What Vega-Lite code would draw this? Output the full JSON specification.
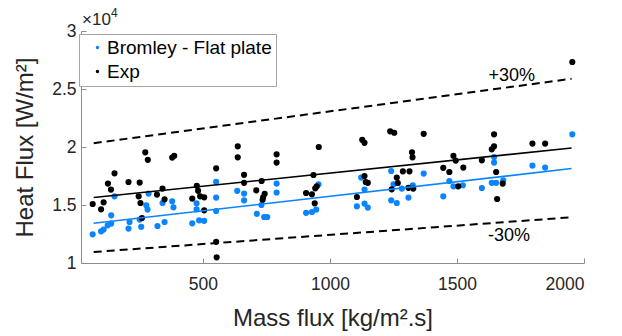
{
  "$schema": "https://vega.github.io/schema/vega-lite/v6.json",
  "width": 503,
  "height": 232,
  "autosize": {"type": "none"},
  "padding": {"left": 81, "top": 31, "right": 38, "bottom": 73},
  "background": "white",
  "config": {
    "font": "Liberation Sans",
    "view": {"stroke": null},
    "axis": {
      "grid": false,
      "domainColor": "#8c8c8c",
      "tickColor": "#8c8c8c",
      "labelColor": "#262626",
      "titleColor": "#262626",
      "labelFont": "Liberation Sans",
      "titleFont": "Liberation Sans",
      "labelFontSize": 17.5,
      "titleFontSize": 24,
      "titleFontWeight": "normal"
    }
  },
  "datasets": {
    "points": [
      {"mass_flux": 66, "heat_flux": 12474, "series": "Bromley - Flat plate"},
      {"mass_flux": 99, "heat_flux": 12733, "series": "Bromley - Flat plate"},
      {"mass_flux": 109, "heat_flux": 12879, "series": "Bromley - Flat plate"},
      {"mass_flux": 125, "heat_flux": 13250, "series": "Bromley - Flat plate"},
      {"mass_flux": 139, "heat_flux": 13397, "series": "Bromley - Flat plate"},
      {"mass_flux": 139, "heat_flux": 14112, "series": "Bromley - Flat plate"},
      {"mass_flux": 152, "heat_flux": 15750, "series": "Bromley - Flat plate"},
      {"mass_flux": 207, "heat_flux": 12966, "series": "Bromley - Flat plate"},
      {"mass_flux": 211, "heat_flux": 13535, "series": "Bromley - Flat plate"},
      {"mass_flux": 251, "heat_flux": 13742, "series": "Bromley - Flat plate"},
      {"mass_flux": 257, "heat_flux": 13121, "series": "Bromley - Flat plate"},
      {"mass_flux": 277, "heat_flux": 14974, "series": "Bromley - Flat plate"},
      {"mass_flux": 282, "heat_flux": 14604, "series": "Bromley - Flat plate"},
      {"mass_flux": 286, "heat_flux": 15983, "series": "Bromley - Flat plate"},
      {"mass_flux": 321, "heat_flux": 13190, "series": "Bromley - Flat plate"},
      {"mass_flux": 341, "heat_flux": 15173, "series": "Bromley - Flat plate"},
      {"mass_flux": 349, "heat_flux": 13535, "series": "Bromley - Flat plate"},
      {"mass_flux": 379, "heat_flux": 15319, "series": "Bromley - Flat plate"},
      {"mass_flux": 384, "heat_flux": 14802, "series": "Bromley - Flat plate"},
      {"mass_flux": 458, "heat_flux": 13423, "series": "Bromley - Flat plate"},
      {"mass_flux": 475, "heat_flux": 15147, "series": "Bromley - Flat plate"},
      {"mass_flux": 475, "heat_flux": 14629, "series": "Bromley - Flat plate"},
      {"mass_flux": 485, "heat_flux": 13681, "series": "Bromley - Flat plate"},
      {"mass_flux": 505, "heat_flux": 13638, "series": "Bromley - Flat plate"},
      {"mass_flux": 552, "heat_flux": 17000, "series": "Bromley - Flat plate"},
      {"mass_flux": 552, "heat_flux": 15638, "series": "Bromley - Flat plate"},
      {"mass_flux": 552, "heat_flux": 14483, "series": "Bromley - Flat plate"},
      {"mass_flux": 635, "heat_flux": 16224, "series": "Bromley - Flat plate"},
      {"mass_flux": 662, "heat_flux": 15983, "series": "Bromley - Flat plate"},
      {"mass_flux": 662, "heat_flux": 15405, "series": "Bromley - Flat plate"},
      {"mass_flux": 712, "heat_flux": 14242, "series": "Bromley - Flat plate"},
      {"mass_flux": 730, "heat_flux": 15000, "series": "Bromley - Flat plate"},
      {"mass_flux": 741, "heat_flux": 13966, "series": "Bromley - Flat plate"},
      {"mass_flux": 753, "heat_flux": 13966, "series": "Bromley - Flat plate"},
      {"mass_flux": 790, "heat_flux": 16845, "series": "Bromley - Flat plate"},
      {"mass_flux": 790, "heat_flux": 16078, "series": "Bromley - Flat plate"},
      {"mass_flux": 906, "heat_flux": 14328, "series": "Bromley - Flat plate"},
      {"mass_flux": 929, "heat_flux": 14397, "series": "Bromley - Flat plate"},
      {"mass_flux": 946, "heat_flux": 14604, "series": "Bromley - Flat plate"},
      {"mass_flux": 955, "heat_flux": 16785, "series": "Bromley - Flat plate"},
      {"mass_flux": 1123, "heat_flux": 17362, "series": "Bromley - Flat plate"},
      {"mass_flux": 1136, "heat_flux": 16328, "series": "Bromley - Flat plate"},
      {"mass_flux": 1106, "heat_flux": 14888, "series": "Bromley - Flat plate"},
      {"mass_flux": 1136, "heat_flux": 15121, "series": "Bromley - Flat plate"},
      {"mass_flux": 1149, "heat_flux": 14776, "series": "Bromley - Flat plate"},
      {"mass_flux": 1241, "heat_flux": 17931, "series": "Bromley - Flat plate"},
      {"mass_flux": 1250, "heat_flux": 16785, "series": "Bromley - Flat plate"},
      {"mass_flux": 1283, "heat_flux": 16414, "series": "Bromley - Flat plate"},
      {"mass_flux": 1326, "heat_flux": 16699, "series": "Bromley - Flat plate"},
      {"mass_flux": 1241, "heat_flux": 15405, "series": "Bromley - Flat plate"},
      {"mass_flux": 1263, "heat_flux": 15173, "series": "Bromley - Flat plate"},
      {"mass_flux": 1309, "heat_flux": 15638, "series": "Bromley - Flat plate"},
      {"mass_flux": 1369, "heat_flux": 17707, "series": "Bromley - Flat plate"},
      {"mass_flux": 1470, "heat_flux": 17069, "series": "Bromley - Flat plate"},
      {"mass_flux": 1486, "heat_flux": 16612, "series": "Bromley - Flat plate"},
      {"mass_flux": 1523, "heat_flux": 16699, "series": "Bromley - Flat plate"},
      {"mass_flux": 1446, "heat_flux": 15750, "series": "Bromley - Flat plate"},
      {"mass_flux": 1598, "heat_flux": 16466, "series": "Bromley - Flat plate"},
      {"mass_flux": 1637, "heat_flux": 16914, "series": "Bromley - Flat plate"},
      {"mass_flux": 1654, "heat_flux": 16914, "series": "Bromley - Flat plate"},
      {"mass_flux": 1646, "heat_flux": 19138, "series": "Bromley - Flat plate"},
      {"mass_flux": 1646, "heat_flux": 18656, "series": "Bromley - Flat plate"},
      {"mass_flux": 1682, "heat_flux": 17130, "series": "Bromley - Flat plate"},
      {"mass_flux": 1954, "heat_flux": 21095, "series": "Bromley - Flat plate"},
      {"mass_flux": 1797, "heat_flux": 18397, "series": "Bromley - Flat plate"},
      {"mass_flux": 1847, "heat_flux": 18224, "series": "Bromley - Flat plate"},
      {"mass_flux": 66, "heat_flux": 15086, "series": "Exp"},
      {"mass_flux": 99, "heat_flux": 14629, "series": "Exp"},
      {"mass_flux": 109, "heat_flux": 15233, "series": "Exp"},
      {"mass_flux": 126, "heat_flux": 16845, "series": "Exp"},
      {"mass_flux": 138, "heat_flux": 16328, "series": "Exp"},
      {"mass_flux": 152, "heat_flux": 17733, "series": "Exp"},
      {"mass_flux": 207, "heat_flux": 16983, "series": "Exp"},
      {"mass_flux": 251, "heat_flux": 16931, "series": "Exp"},
      {"mass_flux": 247, "heat_flux": 15750, "series": "Exp"},
      {"mass_flux": 254, "heat_flux": 15173, "series": "Exp"},
      {"mass_flux": 260, "heat_flux": 13879, "series": "Exp"},
      {"mass_flux": 273, "heat_flux": 19543, "series": "Exp"},
      {"mass_flux": 283, "heat_flux": 18897, "series": "Exp"},
      {"mass_flux": 319, "heat_flux": 15897, "series": "Exp"},
      {"mass_flux": 341, "heat_flux": 16414, "series": "Exp"},
      {"mass_flux": 349, "heat_flux": 15492, "series": "Exp"},
      {"mass_flux": 379, "heat_flux": 19087, "series": "Exp"},
      {"mass_flux": 387, "heat_flux": 19242, "series": "Exp"},
      {"mass_flux": 476, "heat_flux": 16655, "series": "Exp"},
      {"mass_flux": 458, "heat_flux": 15552, "series": "Exp"},
      {"mass_flux": 481, "heat_flux": 16224, "series": "Exp"},
      {"mass_flux": 489, "heat_flux": 15750, "series": "Exp"},
      {"mass_flux": 505, "heat_flux": 15664, "series": "Exp"},
      {"mass_flux": 505, "heat_flux": 14543, "series": "Exp"},
      {"mass_flux": 552, "heat_flux": 18164, "series": "Exp"},
      {"mass_flux": 552, "heat_flux": 11828, "series": "Exp"},
      {"mass_flux": 554, "heat_flux": 10491, "series": "Exp"},
      {"mass_flux": 637, "heat_flux": 20061, "series": "Exp"},
      {"mass_flux": 637, "heat_flux": 19112, "series": "Exp"},
      {"mass_flux": 662, "heat_flux": 17604, "series": "Exp"},
      {"mass_flux": 662, "heat_flux": 16914, "series": "Exp"},
      {"mass_flux": 710, "heat_flux": 16267, "series": "Exp"},
      {"mass_flux": 731, "heat_flux": 17069, "series": "Exp"},
      {"mass_flux": 743, "heat_flux": 15966, "series": "Exp"},
      {"mass_flux": 737, "heat_flux": 15664, "series": "Exp"},
      {"mass_flux": 735, "heat_flux": 15449, "series": "Exp"},
      {"mass_flux": 790, "heat_flux": 19371, "series": "Exp"},
      {"mass_flux": 790, "heat_flux": 18656, "series": "Exp"},
      {"mass_flux": 906, "heat_flux": 16035, "series": "Exp"},
      {"mass_flux": 929, "heat_flux": 15923, "series": "Exp"},
      {"mass_flux": 935, "heat_flux": 17586, "series": "Exp"},
      {"mass_flux": 942, "heat_flux": 16440, "series": "Exp"},
      {"mass_flux": 948, "heat_flux": 16612, "series": "Exp"},
      {"mass_flux": 940, "heat_flux": 15147, "series": "Exp"},
      {"mass_flux": 956, "heat_flux": 20000, "series": "Exp"},
      {"mass_flux": 1127, "heat_flux": 20621, "series": "Exp"},
      {"mass_flux": 1136, "heat_flux": 20362, "series": "Exp"},
      {"mass_flux": 1237, "heat_flux": 21354, "series": "Exp"},
      {"mass_flux": 1253, "heat_flux": 21225, "series": "Exp"},
      {"mass_flux": 1369, "heat_flux": 21138, "series": "Exp"},
      {"mass_flux": 1323, "heat_flux": 19543, "series": "Exp"},
      {"mass_flux": 1325, "heat_flux": 19112, "series": "Exp"},
      {"mass_flux": 1136, "heat_flux": 17500, "series": "Exp"},
      {"mass_flux": 1141, "heat_flux": 16983, "series": "Exp"},
      {"mass_flux": 1149, "heat_flux": 16914, "series": "Exp"},
      {"mass_flux": 1106, "heat_flux": 15690, "series": "Exp"},
      {"mass_flux": 1263, "heat_flux": 17362, "series": "Exp"},
      {"mass_flux": 1267, "heat_flux": 16897, "series": "Exp"},
      {"mass_flux": 1287, "heat_flux": 17905, "series": "Exp"},
      {"mass_flux": 1313, "heat_flux": 17905, "series": "Exp"},
      {"mass_flux": 1243, "heat_flux": 16354, "series": "Exp"},
      {"mass_flux": 1309, "heat_flux": 16483, "series": "Exp"},
      {"mass_flux": 1328, "heat_flux": 16414, "series": "Exp"},
      {"mass_flux": 1646, "heat_flux": 21095, "series": "Exp"},
      {"mass_flux": 1646, "heat_flux": 20061, "series": "Exp"},
      {"mass_flux": 1637, "heat_flux": 19802, "series": "Exp"},
      {"mass_flux": 1486, "heat_flux": 19242, "series": "Exp"},
      {"mass_flux": 1495, "heat_flux": 18828, "series": "Exp"},
      {"mass_flux": 1446, "heat_flux": 18207, "series": "Exp"},
      {"mass_flux": 1470, "heat_flux": 17845, "series": "Exp"},
      {"mass_flux": 1525, "heat_flux": 18224, "series": "Exp"},
      {"mass_flux": 1598, "heat_flux": 18854, "series": "Exp"},
      {"mass_flux": 1654, "heat_flux": 17845, "series": "Exp"},
      {"mass_flux": 1680, "heat_flux": 16845, "series": "Exp"},
      {"mass_flux": 1505, "heat_flux": 16612, "series": "Exp"},
      {"mass_flux": 1658, "heat_flux": 15517, "series": "Exp"},
      {"mass_flux": 1954, "heat_flux": 27328, "series": "Exp"},
      {"mass_flux": 1797, "heat_flux": 20293, "series": "Exp"},
      {"mass_flux": 1847, "heat_flux": 20293, "series": "Exp"}
    ],
    "lines": [
      {"line": "exp_fit", "mass_flux": 70, "heat_flux": 15640},
      {"line": "exp_fit", "mass_flux": 1951, "heat_flux": 19910},
      {"line": "bromley_fit", "mass_flux": 70, "heat_flux": 13420},
      {"line": "bromley_fit", "mass_flux": 1951, "heat_flux": 18140},
      {"line": "plus30", "mass_flux": 70, "heat_flux": 20330},
      {"line": "plus30", "mass_flux": 1951, "heat_flux": 25880},
      {"line": "minus30", "mass_flux": 70, "heat_flux": 10950},
      {"line": "minus30", "mass_flux": 1951, "heat_flux": 13940}
    ],
    "labels": [
      {"label": "+30%", "mass_flux": 1716, "heat_flux": 26156},
      {"label": "-30%", "mass_flux": 1705, "heat_flux": 12302}
    ],
    "exponent": [
      {"base": "×10", "power": "4", "mass_flux": 20, "heat_flux": 30000}
    ]
  },
  "layer": [
    {
      "data": {"name": "points"},
      "mark": {"type": "circle", "size": 38, "opacity": 1},
      "encoding": {
        "x": {
          "field": "mass_flux",
          "type": "quantitative",
          "scale": {"domain": [20, 2000], "nice": false, "zero": false},
          "axis": {
            "values": [500, 1000, 1500, 2000],
            "format": "d",
            "title": "Mass flux [kg/m².s]",
            "tickSize": -5,
            "labelPadding": 17,
            "titlePadding": 14
          }
        },
        "y": {
          "field": "heat_flux",
          "type": "quantitative",
          "scale": {"domain": [10000, 30000], "nice": false, "zero": false},
          "axis": {
            "values": [10000, 15000, 20000, 25000, 30000],
            "labelExpr": "datum.value / 10000",
            "title": "Heat Flux [W/m²]",
            "tickSize": -5,
            "labelPadding": 10,
            "titlePadding": 14
          }
        },
        "color": {
          "field": "series",
          "type": "nominal",
          "scale": {"domain": ["Bromley - Flat plate", "Exp"], "range": ["#0a85ff", "#000000"]},
          "legend": {
            "title": null,
            "orient": "none",
            "legendX": -2,
            "legendY": 3,
            "fillColor": "white",
            "strokeColor": "#a6a6a6",
            "padding": 4,
            "symbolOffset": 5,
            "symbolSize": 12,
            "symbolType": "circle",
            "labelFontSize": 19,
            "labelFont": "Liberation Sans",
            "labelColor": "#000000",
            "labelOffset": 0,
            "labelLimit": 400,
            "rowPadding": 4
          }
        }
      }
    },
    {
      "data": {"name": "lines"},
      "transform": [{"filter": "datum.line == 'plus30'"}],
      "mark": {"type": "line", "color": "#000000", "strokeWidth": 2, "strokeDash": [8, 5]},
      "encoding": {
        "x": {"field": "mass_flux", "type": "quantitative"},
        "y": {"field": "heat_flux", "type": "quantitative"}
      }
    },
    {
      "data": {"name": "lines"},
      "transform": [{"filter": "datum.line == 'minus30'"}],
      "mark": {"type": "line", "color": "#000000", "strokeWidth": 2, "strokeDash": [8, 5]},
      "encoding": {
        "x": {"field": "mass_flux", "type": "quantitative"},
        "y": {"field": "heat_flux", "type": "quantitative"}
      }
    },
    {
      "data": {"name": "lines"},
      "transform": [{"filter": "datum.line == 'exp_fit'"}],
      "mark": {"type": "line", "color": "#000000", "strokeWidth": 1.6},
      "encoding": {
        "x": {"field": "mass_flux", "type": "quantitative"},
        "y": {"field": "heat_flux", "type": "quantitative"}
      }
    },
    {
      "data": {"name": "lines"},
      "transform": [{"filter": "datum.line == 'bromley_fit'"}],
      "mark": {"type": "line", "color": "#0a85ff", "strokeWidth": 1.6},
      "encoding": {
        "x": {"field": "mass_flux", "type": "quantitative"},
        "y": {"field": "heat_flux", "type": "quantitative"}
      }
    },
    {
      "data": {"name": "labels"},
      "mark": {"type": "text", "fontSize": 18, "font": "Liberation Sans", "color": "#000000", "align": "center", "baseline": "middle"},
      "encoding": {
        "x": {"field": "mass_flux", "type": "quantitative"},
        "y": {"field": "heat_flux", "type": "quantitative"},
        "text": {"field": "label"}
      }
    },
    {
      "data": {"name": "exponent"},
      "mark": {"type": "text", "fontSize": 17, "font": "Liberation Sans", "color": "#262626", "align": "left", "baseline": "alphabetic", "dx": 1, "dy": -6},
      "encoding": {
        "x": {"field": "mass_flux", "type": "quantitative"},
        "y": {"field": "heat_flux", "type": "quantitative"},
        "text": {"field": "base"}
      }
    },
    {
      "data": {"name": "exponent"},
      "mark": {"type": "text", "fontSize": 12, "font": "Liberation Sans", "color": "#262626", "align": "left", "baseline": "alphabetic", "dx": 30, "dy": -14},
      "encoding": {
        "x": {"field": "mass_flux", "type": "quantitative"},
        "y": {"field": "heat_flux", "type": "quantitative"},
        "text": {"field": "power"}
      }
    }
  ]
}
